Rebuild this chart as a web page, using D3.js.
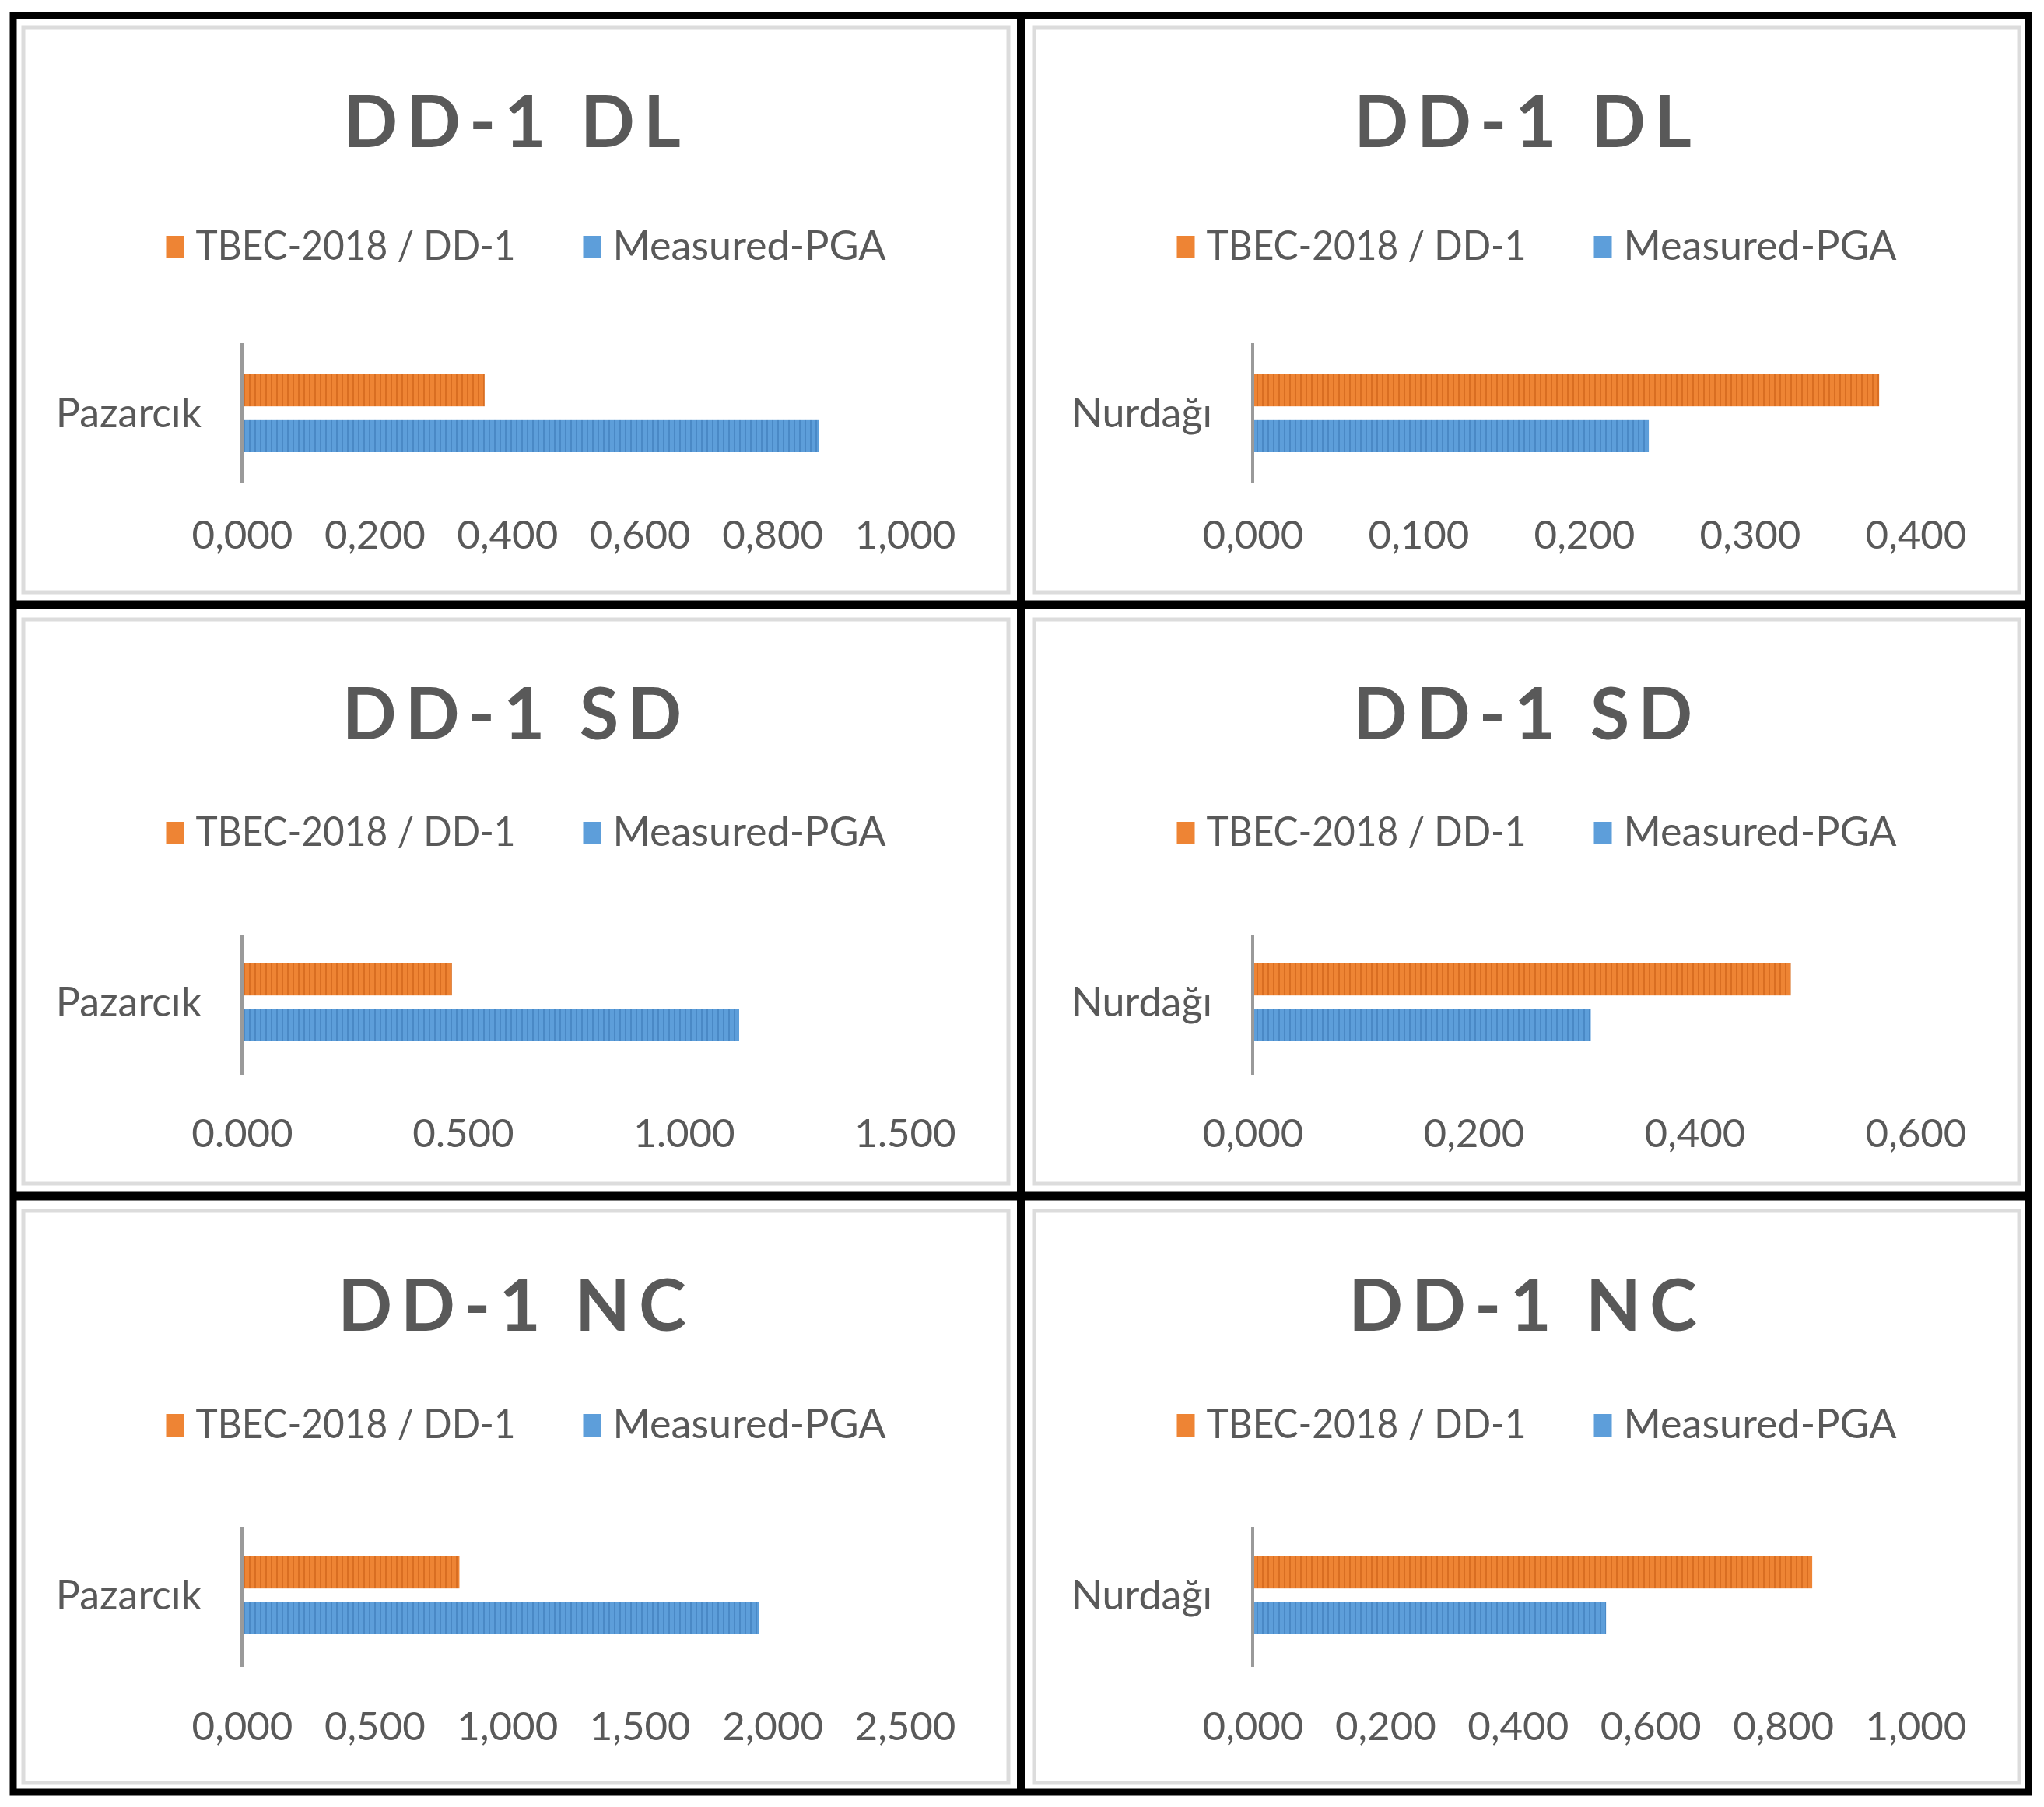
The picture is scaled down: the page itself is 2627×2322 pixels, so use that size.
<!DOCTYPE html>
<html>
<head>
<meta charset="utf-8">
<script src="https://cdn.jsdelivr.net/npm/d3@7/dist/d3.min.js"></script>
<style>
  html, body { margin: 0; padding: 0; background: #ffffff; }
  svg { display: block; }
</style>
</head>
<body>
<svg id="chart" width="2627" height="2322"></svg>
<script>
// ---- data ----
const titles = ["DD-1 DL", "DD-1 DL", "DD-1 SD", "DD-1 SD", "DD-1 NC", "DD-1 NC"];
const categories = ["Pazarcık", "Nurdağı", "Pazarcık", "Nurdağı", "Pazarcık", "Nurdağı"];
const seriesNames = ["TBEC-2018 / DD-1", "Measured-PGA"];
const tbecValues = [0.366, 0.378, 0.475, 0.487, 0.820, 0.844];
const measuredValues = [0.870, 0.239, 1.125, 0.306, 1.950, 0.533];
const axisMax = [1.0, 0.4, 1.5, 0.6, 2.5, 1.0];
const tickValues = [
  [0, 0.2, 0.4, 0.6, 0.8, 1.0],
  [0, 0.1, 0.2, 0.3, 0.4],
  [0, 0.5, 1.0, 1.5],
  [0, 0.2, 0.4, 0.6],
  [0, 0.5, 1.0, 1.5, 2.0, 2.5],
  [0, 0.2, 0.4, 0.6, 0.8, 1.0]
];
const tickLabels = [
  ["0,000", "0,200", "0,400", "0,600", "0,800", "1,000"],
  ["0,000", "0,100", "0,200", "0,300", "0,400"],
  ["0.000", "0.500", "1.000", "1.500"],
  ["0,000", "0,200", "0,400", "0,600"],
  ["0,000", "0,500", "1,000", "1,500", "2,000", "2,500"],
  ["0,000", "0,200", "0,400", "0,600", "0,800", "1,000"]
];

// ---- styles / layout ----
const FONT = "Lato, 'Open Sans', sans-serif";
const TEXT = "#595959";
const ORANGE = "#EE8434", ORANGE_DK = "#D96E22";
const BLUE = "#5D9EDA", BLUE_DK = "#4A89C6";
const legendTextWidths = [411, 351];
const rowLegendShift = [0, -8, -7];
const rowBarShift = [0, -4, -2];
const rowTickShift = [-17, -9, -7];

const svg = d3.select("#chart");
const defs = svg.append("defs");
function stripePattern(id, base, dark) {
  const p = defs.append("pattern").attr("id", id)
    .attr("patternUnits", "userSpaceOnUse").attr("width", 7).attr("height", 10);
  p.append("rect").attr("width", 7).attr("height", 10).attr("fill", base);
  p.append("rect").attr("x", 5).attr("width", 2).attr("height", 10).attr("fill", dark);
}
stripePattern("pat-orange", ORANGE, ORANGE_DK);
stripePattern("pat-blue", BLUE, BLUE_DK);
const fills = ["url(#pat-orange)", "url(#pat-blue)"];
const legendFills = [ORANGE, BLUE];

svg.append("rect").attr("width", 2627).attr("height", 2322).attr("fill", "#fff");

const xs = [13, 1312, 2611];
const ys = [16, 777, 1537, 2307];

titles.forEach((title, i) => {
  const col = i % 2, row = Math.floor(i / 2);
  const x0 = xs[col], x1 = xs[col + 1], y0 = ys[row], y1 = ys[row + 1];
  const g = svg.append("g");

  // panel inner light-gray border
  g.append("rect")
    .attr("x", x0 + 17).attr("y", y0 + 19)
    .attr("width", (x1 - x0) - 33).attr("height", (y1 - y0) - 35)
    .attr("fill", "#fff").attr("stroke", "#dcdcdc").attr("stroke-width", 5);

  // title
  g.append("text")
    .attr("x", (x0 + x1) / 2 + 1).attr("y", y0 + 173)
    .attr("text-anchor", "middle")
    .attr("font-family", FONT).attr("font-weight", 700)
    .attr("font-size", 92).attr("letter-spacing", 11)
    .attr("fill", TEXT).text(title);

  // legend
  const lg = g.append("g");
  let cx = 0;
  seriesNames.forEach((name, k) => {
    lg.append("rect").attr("x", cx).attr("y", -31).attr("width", 23).attr("height", 29)
      .attr("fill", legendFills[k]);
    lg.append("text").attr("x", cx + 38).attr("y", 0)
      .attr("font-family", FONT).attr("font-size", 52).attr("fill", TEXT)
      .attr("textLength", legendTextWidths[k]).attr("lengthAdjust", "spacingAndGlyphs")
      .text(name);
    cx += 38 + legendTextWidths[k] + 87;
  });
  const lw = cx - 87;
  lg.attr("transform", `translate(${x0 + 663 - lw / 2},${y0 + 318 + rowLegendShift[row]})`);

  // scales
  const bt = y0 + 425 + rowBarShift[row];
  const x = d3.scaleLinear().domain([0, axisMax[i]]).range([x0 + 298, x0 + 1150]);
  const yOuter = d3.scaleBand().domain([categories[i]])
    .range([bt, bt + 180]).paddingOuter(0.4).paddingInner(0);
  const yInner = d3.scaleBand().domain(seriesNames)
    .range([0, yOuter.bandwidth()]).paddingInner(0.3);

  const vals = [tbecValues[i], measuredValues[i]];
  g.selectAll("rect.bar").data(vals).enter().append("rect")
    .attr("class", "bar")
    .attr("x", x(0) + 2)
    .attr("y", (d, k) => yOuter(categories[i]) + yInner(seriesNames[k]))
    .attr("width", d => x(d) - x(0) - 2)
    .attr("height", yInner.bandwidth())
    .attr("fill", (d, k) => fills[k]);

  // vertical category axis line
  g.append("line")
    .attr("x1", x(0)).attr("x2", x(0))
    .attr("y1", y0 + 425).attr("y2", y0 + 605)
    .attr("stroke", "#9a9a9a").attr("stroke-width", 4);

  // category label
  g.append("text")
    .attr("x", x(0) - 52).attr("y", yOuter(categories[i]) + yOuter.bandwidth() / 2)
    .attr("dy", "0.35em").attr("text-anchor", "end")
    .attr("font-family", FONT).attr("font-size", 52).attr("fill", TEXT)
    .text(categories[i]);

  // value axis
  const axis = d3.axisBottom(x).tickValues(tickValues[i]).tickSize(0).tickPadding(0)
    .tickFormat((d, k) => tickLabels[i][k]);
  const ag = g.append("g").attr("transform", `translate(0,${y0 + 670 + rowTickShift[row]})`).call(axis);
  ag.select(".domain").remove();
  ag.selectAll("text").attr("font-family", FONT).attr("font-size", 51).attr("fill", TEXT);
});

// black outer frame and dividers
const frame = svg.append("g").attr("stroke", "#000").attr("fill", "none");
frame.append("rect").attr("x", 17).attr("y", 20).attr("width", 2590).attr("height", 2283)
  .attr("stroke-width", 9);
frame.append("line").attr("x1", 1312).attr("x2", 1312).attr("y1", 16).attr("y2", 2307)
  .attr("stroke-width", 10);
frame.append("line").attr("x1", 13).attr("x2", 2611).attr("y1", 777).attr("y2", 777)
  .attr("stroke-width", 11);
frame.append("line").attr("x1", 13).attr("x2", 2611).attr("y1", 1537).attr("y2", 1537)
  .attr("stroke-width", 11);
</script>
</body>
</html>
